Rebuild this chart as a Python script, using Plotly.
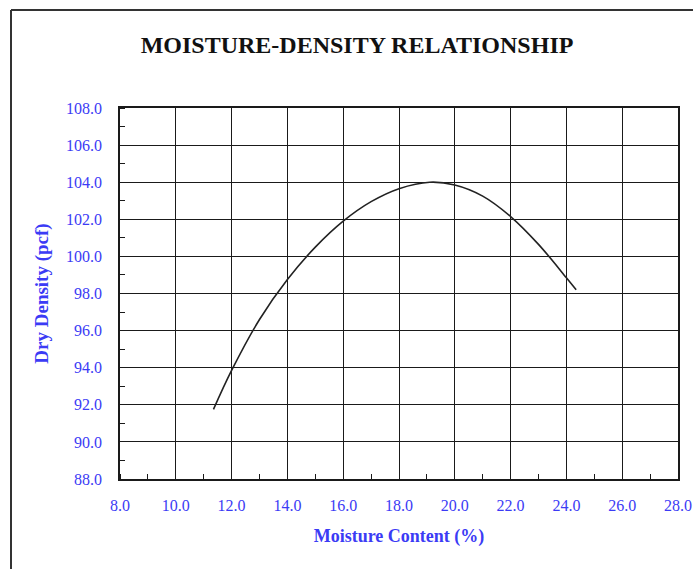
import plotly.graph_objects as go

# Data
moisture = [11.35, 12.0, 13.0, 14.0, 15.0, 16.0, 17.0, 18.0, 19.1, 20.0, 21.0, 22.0, 23.0, 24.0, 24.35]
dry_density = [91.75, 93.85, 96.6, 98.75, 100.5, 101.9, 102.95, 103.65, 104.0, 103.85, 103.25, 102.15, 100.65, 98.85, 98.2]

x_ticks = [8, 10, 12, 14, 16, 18, 20, 22, 24, 26, 28]
y_ticks = [88, 90, 92, 94, 96, 98, 100, 102, 104, 106, 108]

W, H = 693, 569
L, R, T, B = 120, 15, 108, 90
pw, ph = W - L - R, H - T - B

blue = "#3b3bf5"
serif = "Liberation Serif, Times New Roman, serif"


def px_x(x):
    return (x - L) / pw


def px_y(y):
    return (H - B - y) / ph


fig = go.Figure()
fig.add_trace(go.Scatter(
    x=moisture, y=dry_density, mode="lines",
    line=dict(color="#222222", width=1.6, shape="spline", smoothing=1.0),
    hoverinfo="x+y", showlegend=False,
))

axis_common = dict(
    showgrid=True, gridcolor="#1a1a1a", gridwidth=1.4,
    showline=True, linecolor="#1a1a1a", linewidth=1.6, mirror=True,
    ticks="", zeroline=False,
    tickfont=dict(family=serif, size=16, color=blue),
    tickformat=".1f",
    ticklabeloverflow="allow",
    automargin=False,
    minor=dict(ticks="inside", ticklen=5, tickcolor="#1a1a1a", tickwidth=1.3, dtick=1, showgrid=False),
)

fig.update_layout(
    width=W, height=H,
    margin=dict(l=L, r=R, t=T, b=B),
    paper_bgcolor="white", plot_bgcolor="white",
    title=dict(
        text="<b>MOISTURE-DENSITY RELATIONSHIP</b>",
        x=357 / W, xanchor="center", y=1 - 45 / H, yanchor="middle",
        font=dict(family=serif, size=24, color="#111111"),
    ),
    xaxis=dict(
        range=[8, 28], tickvals=x_ticks, ticklabelstandoff=11,
        title=dict(text="<b>Moisture Content (%)</b>", font=dict(family=serif, size=18, color=blue), standoff=16),
        **axis_common,
    ),
    yaxis=dict(
        range=[88, 108], tickvals=y_ticks, ticklabelstandoff=13,
        title=dict(text="<b>Dry Density (pcf)</b>", font=dict(family=serif, size=19, color=blue), standoff=12),
        **axis_common,
    ),
    shapes=[
        dict(type="line", xref="paper", yref="paper",
             x0=px_x(11), x1=px_x(11), y0=px_y(10), y1=px_y(H + 10),
             line=dict(color="#333333", width=2)),
        dict(type="line", xref="paper", yref="paper",
             x0=px_x(11), x1=px_x(W + 10), y0=px_y(10), y1=px_y(10),
             line=dict(color="#333333", width=2)),
    ],
)

fig.write_html(
    "out.html",
    config={"displayModeBar": False},
    post_script="document.body.style.margin='0';document.body.style.overflow='hidden';",
)
